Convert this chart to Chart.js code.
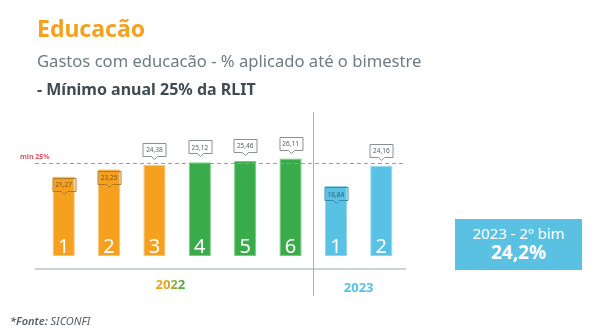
<!DOCTYPE html>
<html>
<head>
<meta charset="utf-8">
<script src="https://cdn.jsdelivr.net/npm/chart.js@4"></script>
<style>
  html, body { margin: 0; padding: 0; background: #fff; }
  body { width: 600px; height: 332px; position: relative; overflow: hidden; font-family: "Noto Sans", sans-serif; }
  #chart { position: absolute; left: 0; top: 0; }
  .txt { position: absolute; line-height: 1; white-space: nowrap; }
  #titulo { left: 37px; top: 17px; font-size: 23px; font-weight: 700; color: #f5a11f; }
  #sub { left: 37px; top: 53px; font-size: 16.6px; color: #6f7b82; }
  #sub2 { left: 37px; top: 81px; font-size: 16px; font-weight: 700; color: #3f4b52; }
  #fonte { left: 10px; top: 315px; font-size: 11px; font-style: italic; color: #5a6166; }
  #fonte b { font-weight: 600; }
  #destaque {
    position: absolute; left: 455px; top: 219px; width: 127px; height: 51px;
    background: #5bc1e3; color: #fff; display: flex; flex-direction: column;
    align-items: center; justify-content: center; line-height: 1.15;
  }
  #destaque .a { font-size: 15px; }
  #destaque .b { font-size: 19px; font-weight: 700; }
</style>
</head>
<body>
<canvas id="chart" width="600" height="332"></canvas>
<div class="txt" id="titulo">Educacão</div>
<div class="txt" id="sub">Gastos com educacão - % aplicado até o bimestre</div>
<div class="txt" id="sub2">- Mínimo anual 25% da RLIT</div>
<div id="destaque"><span class="a">2023 - 2º bim</span><span class="b">24,2%</span></div>
<div class="txt" id="fonte"><b>*Fonte:</b> SICONFI</div>
<script>
// bimestres e % aplicado em educação
const bimestres = ["1", "2", "3", "4", "5", "6", "1", "2"];
const anos = ["2022", "2022", "2022", "2022", "2022", "2022", "2023", "2023"];
const valores = [21.27, 23.25, 24.38, 25.12, 25.46, 26.11, 18.84, 24.16];
const minimo = 25;
const anosLabel = ["2022", "2023"];

const LARANJA = "#f5a11f", VERDE = "#3aab4b", AZUL = "#59c1e3";

function corBarra(i) {
    if (anos[i] === "2023") return AZUL;
    return valores[i] >= minimo ? VERDE : LARANJA;
}
function corBorda(i) {
    if (anos[i] === "2023") return "#8fd5ec";
    return valores[i] >= minimo ? "#7cc987" : "#f8c47a";
}

const fmt = v => v.toFixed(2).replace(".", ",");

// caixinha com seta apontando para baixo
function balao(ctx, cx, top, w, h, fill, stroke) {
    const l = cx - w / 2, r = cx + w / 2, b = top + h;
    ctx.beginPath();
    ctx.moveTo(l, top);
    ctx.lineTo(r, top);
    ctx.lineTo(r, b);
    ctx.lineTo(cx + 3, b);
    ctx.lineTo(cx, b + 3);
    ctx.lineTo(cx - 3, b);
    ctx.lineTo(l, b);
    ctx.closePath();
    if (fill) { ctx.fillStyle = fill; ctx.fill(); }
    ctx.strokeStyle = stroke;
    ctx.lineWidth = 1;
    ctx.stroke();
}

const extras = {
    id: "extras",
    afterDatasetsDraw(chart) {
        const { ctx, scales: { x, y } } = chart;
        const meta = chart.getDatasetMeta(0);
        const yMin = Math.round(y.getPixelForValue(minimo)) + 0.5;
        ctx.save();

        // linha do mínimo
        ctx.setLineDash([4, 3]);
        ctx.strokeStyle = "#f07a7f";
        ctx.lineWidth = 1;
        ctx.beginPath();
        ctx.moveTo(35, yMin);
        ctx.lineTo(406, yMin);
        ctx.stroke();
        ctx.setLineDash([]);
        ctx.fillStyle = "#e8505a";
        ctx.font = "bold 7px 'Noto Sans'";
        ctx.textAlign = "left";
        ctx.textBaseline = "alphabetic";
        ctx.fillText("min 25%", 20, yMin - 5);

        // eixo e divisor entre anos
        ctx.strokeStyle = "#cdd2d5";
        ctx.lineWidth = 2;
        ctx.beginPath();
        ctx.moveTo(35, 269);
        ctx.lineTo(406, 269);
        ctx.stroke();
        const xDiv = Math.round(x.getPixelForValue(5.5)) + 0.5;
        ctx.strokeStyle = "#a9afb3";
        ctx.lineWidth = 1;
        ctx.beginPath();
        ctx.moveTo(xDiv, 112);
        ctx.lineTo(xDiv, 296);
        ctx.stroke();

        meta.data.forEach((bar, i) => {
            const cx = bar.x, topo = bar.y, base = bar.base;
            // número do bimestre
            ctx.fillStyle = "#fff";
            ctx.font = "20px 'Noto Sans'";
            ctx.textAlign = "center";
            ctx.textBaseline = "alphabetic";
            ctx.fillText(bimestres[i], cx, base - 3);

            // valor em balão
            const w = 23, h = 13;
            let t, fill, stroke, cor;
            if (valores[i] < 24) {
                t = topo + 1.5; fill = null;
                stroke = anos[i] === "2023" ? "#3d8aa5" : "#b07a25";
                cor = anos[i] === "2023" ? "#2f5f70" : "#6e5224";
            } else {
                t = topo - 6 - 3 - h; fill = "#fff";
                stroke = "#8a9196"; cor = "#555c61";
            }
            balao(ctx, Math.round(cx) + 0.5, Math.round(t) + 0.5, w, h, fill, stroke);
            ctx.fillStyle = cor;
            ctx.font = "6.5px 'Noto Sans'";
            ctx.textBaseline = "middle";
            ctx.fillText(fmt(valores[i]), cx, t + h / 2 + 1);
        });

        // rótulos dos anos
        ctx.font = "bold 13px 'Noto Sans'";
        ctx.textBaseline = "alphabetic";
        ctx.textAlign = "center";
        const x22 = x.getPixelForValue(2.35);
        const grad = ctx.createLinearGradient(x22 - 15, 0, x22 + 15, 0);
        grad.addColorStop(0, LARANJA);
        grad.addColorStop(0.3, LARANJA);
        grad.addColorStop(0.55, "#a3ad36");
        grad.addColorStop(1, VERDE);
        ctx.fillStyle = grad;
        ctx.fillText(anosLabel[0], x22, 289);
        ctx.fillStyle = AZUL;
        ctx.fillText(anosLabel[1], x.getPixelForValue(6.5), 292);

        ctx.restore();
    }
};

new Chart(document.getElementById("chart"), {
    type: "bar",
    data: {
        labels: bimestres.map((b, i) => anos[i] + "-" + b),
        datasets: [{
            data: valores,
            backgroundColor: valores.map((v, i) => corBarra(i)),
            borderColor: valores.map((v, i) => corBorda(i)),
            borderWidth: 1,
            borderSkipped: false,
            categoryPercentage: 1,
            barPercentage: 0.49
        }]
    },
    options: {
        responsive: false,
        animation: false,
        layout: { padding: { left: 41, right: 196, top: 144, bottom: 76 } },
        plugins: { legend: { display: false }, tooltip: { enabled: false } },
        scales: {
            x: { display: false },
            y: { display: false, min: 0, max: 30 }
        }
    },
    plugins: [extras]
});
</script>
</body>
</html>
